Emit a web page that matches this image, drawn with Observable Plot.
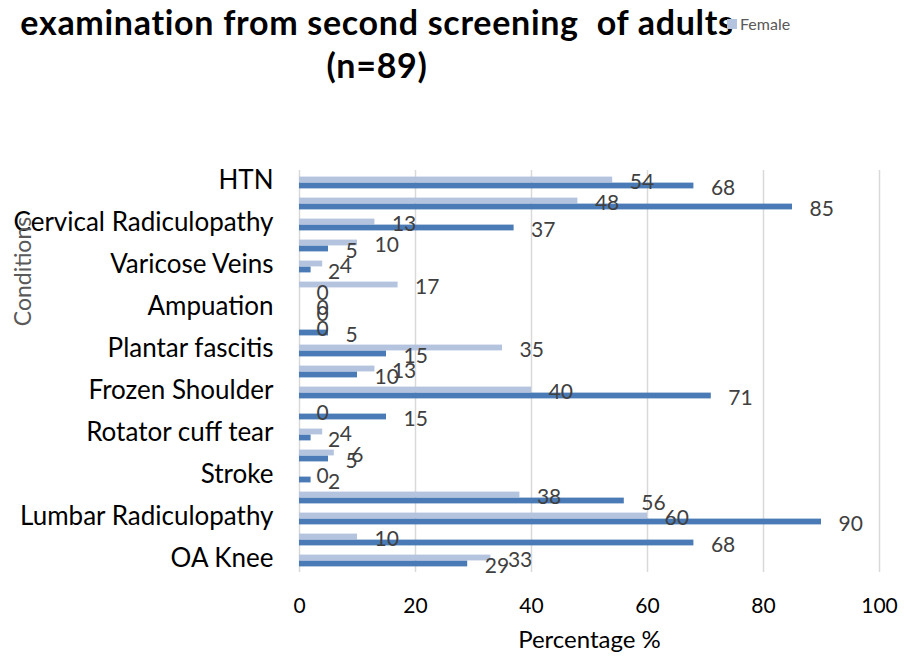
<!DOCTYPE html>
<html>
<head>
<meta charset="utf-8">
<script src="https://cdn.jsdelivr.net/npm/d3@7"></script>
<script src="https://cdn.jsdelivr.net/npm/@observablehq/plot@0.6"></script>
<style>
  html, body { margin: 0; padding: 0; background: #fff; }
  #wrap { position: relative; width: 904px; height: 657px; overflow: hidden; font-family: Lato, "Open Sans", sans-serif; }
  #title { height: 90px; width: 754px; text-align: center; font-weight: bold; font-size: 34px; letter-spacing: 0.7px; line-height: 43px; color: #000; white-space: pre; box-sizing: border-box; }
  #legend { position: absolute; left: 727px; top: 14px; display: flex; align-items: center; font-size: 16px; color: #595959; }
  #legend .sw { width: 10px; height: 10px; margin-right: 3px; }
  #chart svg { display: block; }
</style>
</head>
<body>
<div id="wrap">
  <div id="title"></div>
  <div id="legend"></div>
  <div id="chart"></div>
</div>
<script>
// Category labels, top to bottom (unlabeled categories left blank as in the reference)
const conditions = ["HTN", "", "Cervical Radiculopathy", "", "Varicose Veins", "", "Ampuation", "",
  "Plantar fascitis", "", "Frozen Shoulder", "", "Rotator cuff tear", "", "Stroke", "",
  "Lumbar Radiculopathy", "", "OA Knee"];
const female = [54, 48, 13, 10, 4, 17, 0, 0, 35, 13, 40, 0, 4, 6, 0, 38, 60, 10, 33];
const male   = [68, 85, 37, 5, 2, 0, 0, 5, 15, 10, 71, 15, 2, 5, 2, 56, 90, 68, 29];
const series = ["Female", "Male"];
const seriesColors = ["#b4c3de", "#4a7bb7"];
const xTicks = [0, 20, 40, 60, 80, 100];
const titleLines = ["examination from second screening  of adults", "(n=89)"];
const legendItems = ["Female"];

document.getElementById("title").textContent = titleLines.join("\n");
const legend = document.getElementById("legend");
legendItems.forEach(name => {
  const sw = document.createElement("div");
  sw.className = "sw";
  sw.style.background = seriesColors[series.indexOf(name)];
  const t = document.createElement("span");
  t.textContent = name;
  legend.appendChild(sw);
  legend.appendChild(t);
});

const idx = d3.range(conditions.length);
const femaleRows = idx.map(i => ({i, series: "Female", value: female[i]}));
const maleRows = idx.map(i => ({i, series: "Male", value: male[i]}));

const plot = Plot.plot({
  width: 904,
  height: 567,
  marginTop: 80,
  marginBottom: 85,
  marginLeft: 299,
  marginRight: 25,
  style: {fontFamily: "Lato, 'Open Sans', sans-serif", background: "#fff"},
  x: {domain: [0, 100]},
  y: {domain: idx, type: "band", padding: 0},
  color: {domain: series, range: seriesColors},
  marks: [
    Plot.ruleX(xTicks, {stroke: "#d9d9d9", strokeWidth: 1.5}),
    Plot.barX(femaleRows, {x: "value", y: "i", fill: "series", insetTop: 7.6, insetBottom: 7.6, dy: -3}),
    Plot.barX(maleRows, {x: "value", y: "i", fill: "series", insetTop: 7.6, insetBottom: 7.6, dy: 3}),
    Plot.text(femaleRows, {x: "value", y: "i", text: d => String(d.value), textAnchor: "start", dx: 17, dy: -1, fontSize: 21, fill: "#404040"}),
    Plot.text(maleRows, {x: "value", y: "i", text: d => String(d.value), textAnchor: "start", dx: 17, dy: 5, fontSize: 21, fill: "#404040"}),
    Plot.axisX({ticks: xTicks, tickSize: 0, tickPadding: 26, fontSize: 21, label: null, color: "#000"}),
    Plot.axisY({tickFormat: i => conditions[i], tickSize: 0, tickPadding: 26, fontSize: 26, label: null, color: "#000", dy: -2}),
    Plot.text(["Percentage %"], {frameAnchor: "bottom", lineAnchor: "middle", dy: 68, fontSize: 24, fill: "#000"}),
    Plot.text(["Conditions"], {frameAnchor: "left", lineAnchor: "middle", textAnchor: "middle", rotate: -90, dx: -276, dy: -100, fontSize: 23, fill: "#595959"})
  ]
});
document.getElementById("chart").appendChild(plot);
</script>
</body>
</html>
